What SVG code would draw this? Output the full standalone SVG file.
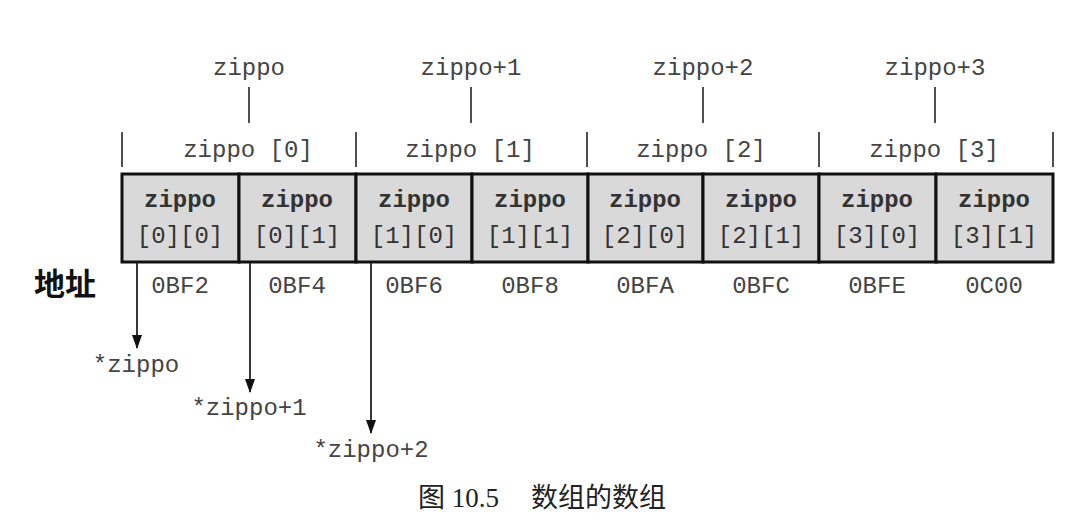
<svg xmlns="http://www.w3.org/2000/svg" width="1085" height="526" viewBox="0 0 1085 526">
<style>
.mono{font-family:"Liberation Mono","DejaVu Sans Mono",monospace;font-size:24px;fill:#444;text-anchor:middle}
.cell{fill:#d9d9d9;stroke:#111;stroke-width:3}
.ct{font-family:"Liberation Mono","DejaVu Sans Mono",monospace;font-size:24px;fill:#333;text-anchor:middle}
.ctb{font-weight:bold}
.tick{stroke:#222;stroke-width:1.6}
.arr{stroke:#222;stroke-width:1.8;fill:none}
</style>
<defs>
<marker id="ah" viewBox="0 0 14 10" refX="13" refY="5" markerWidth="14" markerHeight="10" markerUnits="userSpaceOnUse" orient="auto">
<path d="M0,0 L14,5 L0,10 Z" fill="#111"/>
</marker>
</defs>
<rect width="1085" height="526" fill="#fff"/>
<g id="pointers">
<text class="mono" x="249" y="75">zippo</text>
<text class="mono" x="471" y="75">zippo+1</text>
<text class="mono" x="703" y="75">zippo+2</text>
<text class="mono" x="935" y="75">zippo+3</text>
</g>
<g id="groups">
<text class="mono" x="248" y="157">zippo [0]</text>
<text class="mono" x="470" y="157">zippo [1]</text>
<text class="mono" x="701" y="157">zippo [2]</text>
<text class="mono" x="934" y="157">zippo [3]</text>
</g>
<g id="cells">
<g id="c00"><rect class="cell" x="122" y="174" width="117" height="88"/><text class="ct ctb" x="180" y="207">zippo</text><text class="ct" x="180" y="243">[0][0]</text></g>
<g id="c01"><rect class="cell" x="239" y="174" width="117" height="88"/><text class="ct ctb" x="297" y="207">zippo</text><text class="ct" x="297" y="243">[0][1]</text></g>
<g id="c10"><rect class="cell" x="356" y="174" width="116" height="88"/><text class="ct ctb" x="414" y="207">zippo</text><text class="ct" x="414" y="243">[1][0]</text></g>
<g id="c11"><rect class="cell" x="472" y="174" width="116" height="88"/><text class="ct ctb" x="530" y="207">zippo</text><text class="ct" x="530" y="243">[1][1]</text></g>
<g id="c20"><rect class="cell" x="588" y="174" width="115" height="88"/><text class="ct ctb" x="645" y="207">zippo</text><text class="ct" x="645" y="243">[2][0]</text></g>
<g id="c21"><rect class="cell" x="703" y="174" width="116" height="88"/><text class="ct ctb" x="761" y="207">zippo</text><text class="ct" x="761" y="243">[2][1]</text></g>
<g id="c30"><rect class="cell" x="819" y="174" width="117" height="88"/><text class="ct ctb" x="877" y="207">zippo</text><text class="ct" x="877" y="243">[3][0]</text></g>
<g id="c31"><rect class="cell" x="936" y="174" width="117" height="88"/><text class="ct ctb" x="994" y="207">zippo</text><text class="ct" x="994" y="243">[3][1]</text></g>
</g>
<g id="addresses">
<text x="65" y="295" font-family="'Noto Sans CJK SC',sans-serif" font-weight="bold" font-size="31" fill="#111" text-anchor="middle">地址</text>
<text class="mono" x="180" y="293">0BF2</text>
<text class="mono" x="297" y="293">0BF4</text>
<text class="mono" x="414" y="293">0BF6</text>
<text class="mono" x="530" y="293">0BF8</text>
<text class="mono" x="645" y="293">0BFA</text>
<text class="mono" x="761" y="293">0BFC</text>
<text class="mono" x="877" y="293">0BFE</text>
<text class="mono" x="994" y="293">0C00</text>
</g>
<g id="connectors">
<line class="tick" x1="249" y1="87" x2="249" y2="123"/>
<line class="tick" x1="471" y1="87" x2="471" y2="123"/>
<line class="tick" x1="703" y1="87" x2="703" y2="123"/>
<line class="tick" x1="935" y1="87" x2="935" y2="123"/>
<line class="tick" x1="122" y1="132" x2="122" y2="167"/>
<line class="tick" x1="356" y1="132" x2="356" y2="167"/>
<line class="tick" x1="587" y1="132" x2="587" y2="167"/>
<line class="tick" x1="819" y1="132" x2="819" y2="167"/>
<line class="tick" x1="1053" y1="132" x2="1053" y2="167"/>
<line class="arr" x1="137" y1="263" x2="137" y2="348" marker-end="url(#ah)"/>
<line class="arr" x1="250" y1="263" x2="250" y2="392" marker-end="url(#ah)"/>
<line class="arr" x1="371" y1="263" x2="371" y2="433" marker-end="url(#ah)"/>
</g>
<g id="derefs">
<text class="mono" x="136" y="372">*zippo</text>
<text class="mono" x="249" y="415">*zippo+1</text>
<text class="mono" x="371" y="457">*zippo+2</text>
</g>
<text x="418" y="507" font-family="'Liberation Serif','Noto Sans CJK SC',serif" font-size="27" fill="#222">图 10.5<tspan x="531">数组的数组</tspan></text>
</svg>
